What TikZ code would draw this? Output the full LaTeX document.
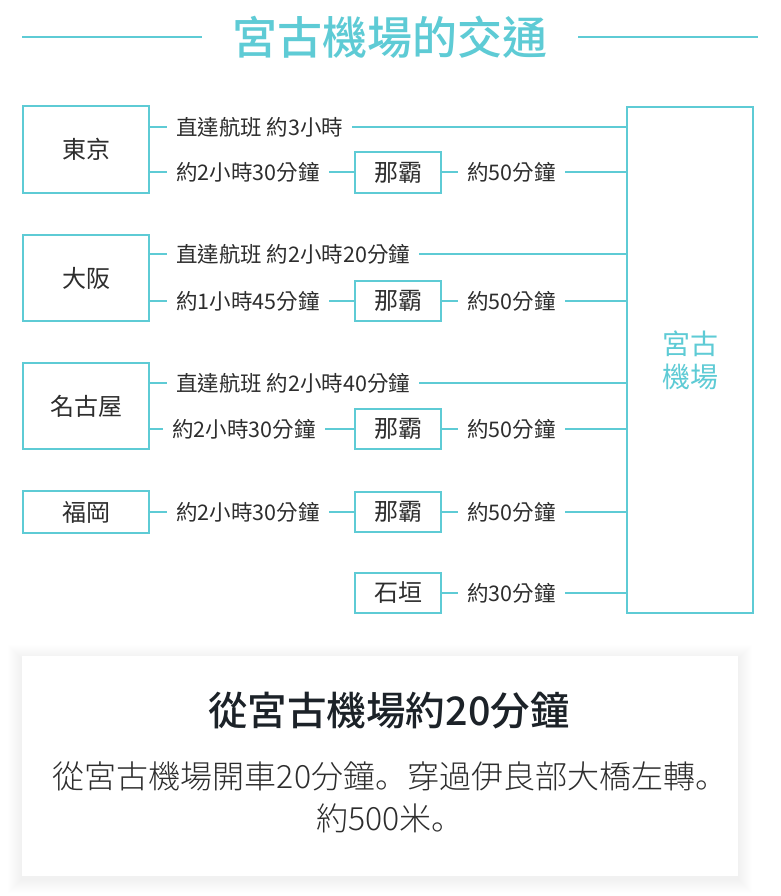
\documentclass[tikz,border=0pt]{standalone}
\usepackage{fontspec}
\setmainfont{Noto Sans CJK TC}
\IfFontExistsTF{Noto Sans CJK JP Light}
  {\newfontfamily\bodyfont{Noto Sans CJK JP Light}}
  {\newfontfamily\bodyfont{Noto Sans CJK JP}}
\IfFontExistsTF{Noto Sans CJK JP Medium}
  {\newfontfamily\headfont{Noto Sans CJK JP Medium}}
  {\newfontfamily\headfont[FakeBold=1.2]{Noto Sans CJK JP}}
\IfFontExistsTF{Noto Sans CJK TC Medium}
  {\newfontfamily\titlefont{Noto Sans CJK TC Medium}}
  {\newfontfamily\titlefont[FakeBold=1]{Noto Sans CJK TC}}
\usetikzlibrary{backgrounds}
\definecolor{mkteal}{RGB}{94,203,213}
\definecolor{lblc}{RGB}{45,45,45}
\definecolor{headc}{RGB}{28,34,40}
\begin{document}
\begin{tikzpicture}[x=1pt,y=-1pt,
  cbox/.style={draw=mkteal, line width=2pt, inner sep=0pt, text=lblc, font=\fontsize{24}{28}\selectfont},
  lbl/.style={fill=white, anchor=west, inner xsep=9pt, inner ysep=3pt, text=lblc, font=\fontsize{21.5}{24}\selectfont},
  conn/.style={draw=mkteal, line width=2pt},
  deco/.style={draw=mkteal, line width=2pt}]
\begin{pgfonlayer}{background}
\fill[white] (0,0) rectangle (780,896);
\end{pgfonlayer}
\useasboundingbox (0,0) rectangle (780,896);

% title
\node[text=mkteal, font=\titlefont\fontsize{45}{50}\selectfont, inner sep=0pt] (title) at (390,37) {宮古機場的交通};
\coordinate (tla) at (22,37);
\coordinate (tlb) at (202,37);
\coordinate (tra) at (578,37);
\coordinate (trb) at (758,37);
\draw[deco] (tla) -- (tlb);
\draw[deco] (tra) -- (trb);

% origin boxes
\node[cbox, minimum width=126pt, minimum height=87pt] (tokyo) at (86,149.5) {東京};
\node[cbox, minimum width=126pt, minimum height=86pt] (osaka) at (86,278) {大阪};
\node[cbox, minimum width=126pt, minimum height=86pt] (nagoya) at (86,406) {名古屋};
\node[cbox, minimum width=126pt, minimum height=42pt] (fukuoka) at (86,512) {福岡};

% transfer boxes
\node[cbox, minimum width=86pt, minimum height=40pt] (nahaA) at (398,172.5) {那霸};
\node[cbox, minimum width=86pt, minimum height=40pt] (nahaB) at (398,301) {那霸};
\node[cbox, minimum width=86pt, minimum height=40pt] (nahaC) at (398,429) {那霸};
\node[cbox, minimum width=86pt, minimum height=40pt] (nahaD) at (398,512) {那霸};
\node[cbox, minimum width=86pt, minimum height=40pt] (ishi) at (398,593) {石垣};

% airport
\node[cbox, minimum width=126pt, minimum height=506pt, text=mkteal, align=center,
      font=\fontsize{28}{33}\selectfont] (airport) at (690,360) {宮古\\機場};

% labels
\node[lbl] (tk1) at (167,127) {直達航班 約3小時};
\node[lbl] (tk2) at (167,172.5) {約2小時30分鐘};
\node[lbl] (os1) at (167,254) {直達航班 約2小時20分鐘};
\node[lbl] (os2) at (167,301) {約1小時45分鐘};
\node[lbl] (ng1) at (167,383) {直達航班 約2小時40分鐘};
\node[lbl] (ng2) at (163,429) {約2小時30分鐘};
\node[lbl] (fk1) at (167,512) {約2小時30分鐘};
\node[lbl] (na1) at (458,172.5) {約50分鐘};
\node[lbl] (na2) at (458,301) {約50分鐘};
\node[lbl] (na3) at (458,429) {約50分鐘};
\node[lbl] (na4) at (458,512) {約50分鐘};
\node[lbl] (is1) at (458,593) {約30分鐘};

% connectors
\begin{pgfonlayer}{background}
\draw[conn] (tokyo.east |- tk1) -- (airport.west |- tk1);
\draw[conn] (tokyo.east |- tk2) -- (nahaA.west);
\draw[conn] (nahaA.east) -- (airport.west |- nahaA);
\draw[conn] (osaka.east |- os1) -- (airport.west |- os1);
\draw[conn] (osaka.east |- os2) -- (nahaB.west);
\draw[conn] (nahaB.east) -- (airport.west |- nahaB);
\draw[conn] (nagoya.east |- ng1) -- (airport.west |- ng1);
\draw[conn] (nagoya.east |- ng2) -- (nahaC.west);
\draw[conn] (nahaC.east) -- (airport.west |- nahaC);
\draw[conn] (fukuoka.east) -- (nahaD.west);
\draw[conn] (nahaD.east) -- (airport.west |- nahaD);
\draw[conn] (ishi.east) -- (airport.west |- ishi);
\end{pgfonlayer}

% card with soft shadow
\foreach \i in {1,...,14} {
  \fill[black, opacity=0.0055] (22-\i,656-\i+3) rectangle (738+\i,876+\i+3);
}
\fill[white] (22,656) rectangle (738,876);
\node[text=headc, font=\headfont\fontsize{39.5}{44}\selectfont, inner sep=0pt] (head) at (389,711) {從宮古機場約20分鐘};
\node[text=lblc, font=\bodyfont\fontsize{32}{42}\selectfont, align=center, inner sep=0pt] (body) at (390,797) {從宮古機場開車20分鐘。穿過伊良部大橋左轉。\\約500米。};
\end{tikzpicture}
\end{document}
